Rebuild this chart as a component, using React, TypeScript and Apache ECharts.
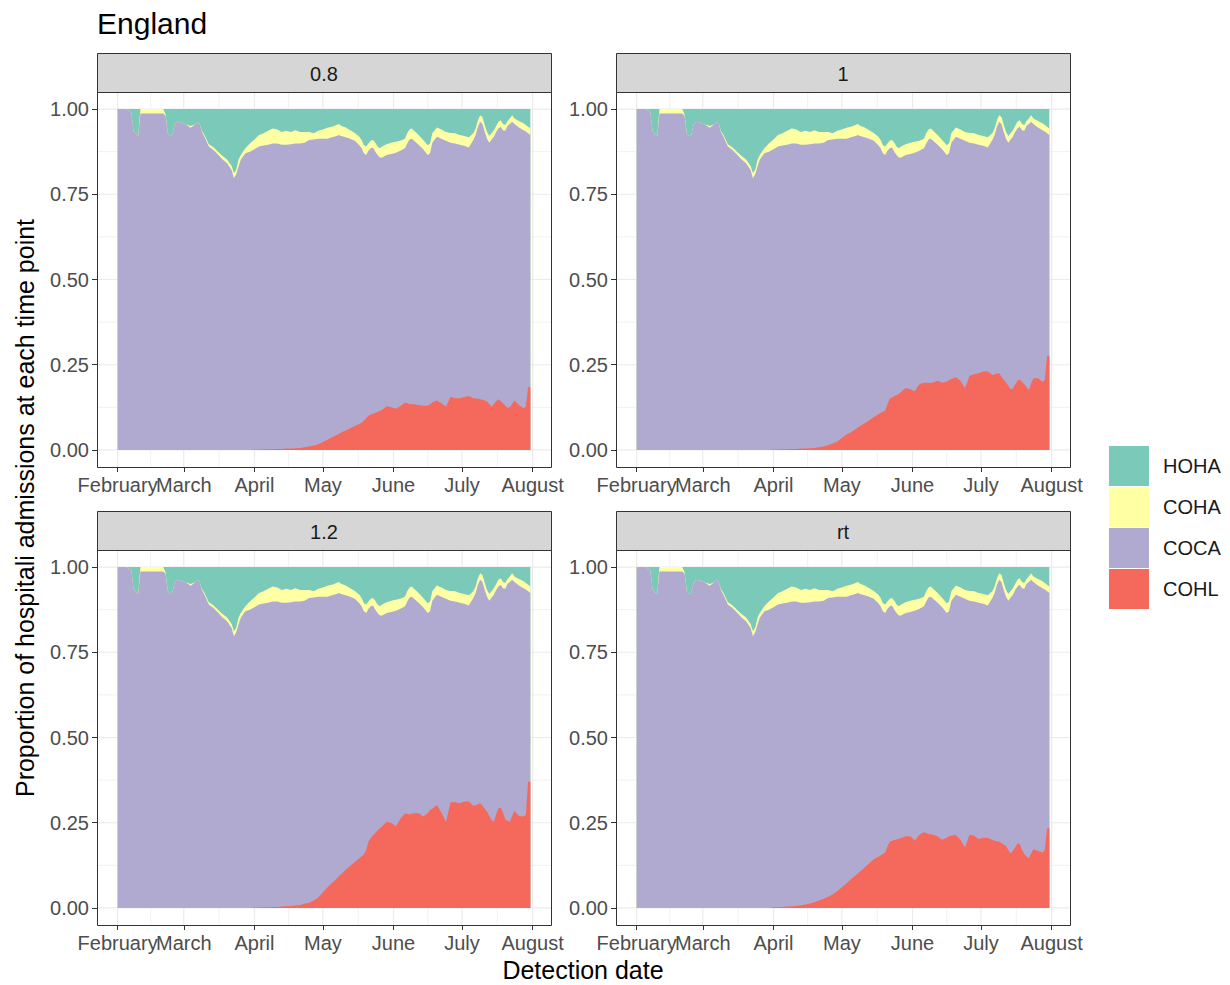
import React, { useEffect, useRef } from 'react';
import * as echarts from 'echarts';

// ---------- data ----------
const dates = [
  '2020-02-01','2020-02-05','2020-02-07','2020-02-08','2020-02-10','2020-02-11','2020-02-15','2020-02-19',
  '2020-02-21','2020-02-22','2020-02-23','2020-02-24','2020-02-25','2020-02-26','2020-02-27','2020-02-29',
  '2020-03-02','2020-03-04','2020-03-06','2020-03-07','2020-03-08','2020-03-09','2020-03-10','2020-03-12',
  '2020-03-14','2020-03-16','2020-03-18','2020-03-20','2020-03-22','2020-03-23','2020-03-24','2020-03-25',
  '2020-03-26','2020-03-28','2020-03-30',
  '2020-04-01','2020-04-03','2020-04-05','2020-04-07','2020-04-09','2020-04-11','2020-04-13','2020-04-15',
  '2020-04-17','2020-04-19','2020-04-21','2020-04-23','2020-04-25','2020-04-27','2020-04-29',
  '2020-05-01','2020-05-03','2020-05-05','2020-05-07','2020-05-08','2020-05-09','2020-05-11','2020-05-13',
  '2020-05-15','2020-05-17','2020-05-18','2020-05-19','2020-05-20','2020-05-21','2020-05-22','2020-05-23',
  '2020-05-24','2020-05-25','2020-05-26','2020-05-27','2020-05-29','2020-05-31',
  '2020-06-02','2020-06-04','2020-06-06','2020-06-07','2020-06-08','2020-06-09','2020-06-10','2020-06-12',
  '2020-06-14','2020-06-16','2020-06-17','2020-06-18','2020-06-20','2020-06-22','2020-06-24','2020-06-26',
  '2020-06-28','2020-06-30',
  '2020-07-02','2020-07-04','2020-07-06','2020-07-07','2020-07-08','2020-07-09','2020-07-10','2020-07-11',
  '2020-07-12','2020-07-13','2020-07-14','2020-07-15','2020-07-16','2020-07-17','2020-07-18','2020-07-19',
  '2020-07-20','2020-07-21','2020-07-22','2020-07-23','2020-07-24','2020-07-26','2020-07-28','2020-07-29',
  '2020-07-30','2020-07-31',
];

// HOHA proportion (same in every facet)
const hoha = [
  0, 0, 0.01, 0.065, 0.08, 0, 0, 0, 0, 0.015, 0.07, 0.08, 0.075, 0.045, 0.037, 0.04,
  0.045, 0.05, 0.045, 0.037, 0.044, 0.065, 0.075, 0.103, 0.112, 0.125, 0.138, 0.148, 0.167, 0.188, 0.178, 0.149, 0.135, 0.115, 0.101,
  0.089, 0.076, 0.071, 0.064, 0.057, 0.060, 0.067, 0.064, 0.067, 0.062, 0.067, 0.067, 0.067, 0.071, 0.064,
  0.060, 0.055, 0.052, 0.047, 0.044, 0.049, 0.054, 0.062, 0.070, 0.081, 0.091, 0.106, 0.110, 0.101, 0.093, 0.091, 0.099, 0.110, 0.115, 0.110, 0.103, 0.099,
  0.096, 0.093, 0.087, 0.071, 0.060, 0.057, 0.064, 0.076, 0.091, 0.106, 0.101, 0.071, 0.054, 0.060, 0.067, 0.070, 0.071, 0.076,
  0.079, 0.083, 0.071, 0.057, 0.033, 0.018, 0.023, 0.047, 0.067, 0.079, 0.071, 0.062, 0.050, 0.037, 0.033, 0.044, 0.047, 0.035, 0.028, 0.018, 0.028, 0.035, 0.042, 0.047, 0.052, 0.057,
];

// COHA proportion (same in every facet)
const coha = [
  0, 0, 0, 0, 0, 0.013, 0.013, 0.013, 0.013, 0.005, 0, 0, 0, 0, 0, 0,
  0, 0.005, 0, 0, 0, 0.003, 0.005, 0.007, 0.008, 0.008, 0.01, 0.011, 0.012, 0.015, 0.013, 0.02, 0.014, 0.015, 0.024,
  0.029, 0.034, 0.036, 0.041, 0.044, 0.041, 0.038, 0.041, 0.036, 0.039, 0.034, 0.032, 0.024, 0.018, 0.023,
  0.027, 0.032, 0.031, 0.032, 0.032, 0.030, 0.029, 0.025, 0.023, 0.025, 0.024, 0.024, 0.025, 0.021, 0.022, 0.022, 0.026, 0.025, 0.027, 0.032, 0.032, 0.033,
  0.032, 0.029, 0.028, 0.030, 0.029, 0.030, 0.029, 0.029, 0.027, 0.029, 0.029, 0.028, 0.027, 0.027, 0.026, 0.029, 0.030, 0.029,
  0.029, 0.030, 0.020, 0.019, 0.019, 0.019, 0.021, 0.020, 0.020, 0.020, 0.018, 0.019, 0.017, 0.020, 0.019, 0.018, 0.017, 0.014, 0.016, 0.019, 0.016, 0.019, 0.020, 0.019, 0.019, 0.019,
];

// COHL proportion per facet
const cohl08 = [
  0, 0, 0, 0, 0, 0, 0, 0, 0, 0, 0, 0, 0, 0, 0, 0,
  0, 0, 0, 0, 0, 0, 0, 0, 0, 0, 0, 0, 0, 0, 0, 0, 0, 0, 0,
  0.001, 0.001, 0.002, 0.002, 0.002, 0.003, 0.003, 0.004, 0.004, 0.005, 0.006, 0.008, 0.010, 0.013, 0.017,
  0.023, 0.030, 0.037, 0.044, 0.047, 0.051, 0.057, 0.064, 0.070, 0.076, 0.080, 0.086, 0.093, 0.100, 0.104, 0.106, 0.109, 0.111, 0.114, 0.118, 0.128, 0.125,
  0.121, 0.129, 0.139, 0.137, 0.135, 0.134, 0.134, 0.132, 0.130, 0.130, 0.134, 0.139, 0.145, 0.137, 0.127, 0.156, 0.152, 0.152,
  0.155, 0.158, 0.152, 0.151, 0.150, 0.149, 0.147, 0.145, 0.142, 0.135, 0.127, 0.135, 0.143, 0.149, 0.143, 0.137, 0.130, 0.124, 0.125, 0.135, 0.145, 0.132, 0.122, 0.127, 0.184, 0.184,
];
const cohl10 = [
  0, 0, 0, 0, 0, 0, 0, 0, 0, 0, 0, 0, 0, 0, 0, 0,
  0, 0, 0, 0, 0, 0, 0, 0, 0, 0, 0, 0, 0, 0, 0, 0, 0, 0, 0,
  0.001, 0.001, 0.002, 0.002, 0.003, 0.003, 0.004, 0.004, 0.005, 0.006, 0.008, 0.010, 0.014, 0.019, 0.025,
  0.035, 0.045, 0.052, 0.061, 0.065, 0.070, 0.078, 0.087, 0.097, 0.105, 0.109, 0.112, 0.115, 0.135, 0.150, 0.154, 0.158, 0.161, 0.165, 0.170, 0.182, 0.178,
  0.172, 0.193, 0.197, 0.197, 0.197, 0.196, 0.198, 0.203, 0.197, 0.200, 0.205, 0.208, 0.213, 0.203, 0.182, 0.218, 0.222, 0.225,
  0.230, 0.230, 0.220, 0.222, 0.224, 0.225, 0.215, 0.205, 0.198, 0.188, 0.178, 0.180, 0.192, 0.203, 0.207, 0.200, 0.193, 0.185, 0.176, 0.195, 0.210, 0.210, 0.200, 0.205, 0.276, 0.276,
];
const cohl12 = [
  0, 0, 0, 0, 0, 0, 0, 0, 0, 0, 0, 0, 0, 0, 0, 0,
  0, 0, 0, 0, 0, 0, 0, 0, 0, 0, 0, 0, 0, 0, 0, 0, 0, 0, 0,
  0.001, 0.001, 0.002, 0.002, 0.003, 0.003, 0.004, 0.005, 0.006, 0.007, 0.009, 0.012, 0.015, 0.022, 0.031,
  0.046, 0.060, 0.073, 0.086, 0.093, 0.099, 0.112, 0.124, 0.135, 0.146, 0.152, 0.157, 0.170, 0.195, 0.205, 0.213, 0.220, 0.227, 0.233, 0.240, 0.253, 0.249,
  0.240, 0.262, 0.277, 0.276, 0.274, 0.276, 0.278, 0.278, 0.268, 0.278, 0.287, 0.292, 0.302, 0.280, 0.252, 0.310, 0.310, 0.307,
  0.312, 0.312, 0.300, 0.301, 0.304, 0.307, 0.300, 0.290, 0.282, 0.270, 0.258, 0.253, 0.275, 0.292, 0.295, 0.280, 0.260, 0.256, 0.253, 0.270, 0.285, 0.270, 0.268, 0.273, 0.370, 0.370,
];
const cohlRt = [
  0, 0, 0, 0, 0, 0, 0, 0, 0, 0, 0, 0, 0, 0, 0, 0,
  0, 0, 0, 0, 0, 0, 0, 0, 0, 0, 0, 0, 0, 0, 0, 0, 0, 0, 0,
  0.002, 0.002, 0.003, 0.004, 0.005, 0.006, 0.008, 0.010, 0.013, 0.017, 0.022, 0.027, 0.033, 0.040, 0.049,
  0.061, 0.072, 0.084, 0.096, 0.101, 0.107, 0.119, 0.131, 0.143, 0.150, 0.154, 0.158, 0.163, 0.180, 0.194, 0.197, 0.199, 0.201, 0.203, 0.205, 0.210, 0.210,
  0.198, 0.215, 0.222, 0.220, 0.217, 0.216, 0.215, 0.210, 0.200, 0.206, 0.210, 0.212, 0.214, 0.200, 0.177, 0.215, 0.212, 0.202,
  0.206, 0.206, 0.199, 0.197, 0.196, 0.195, 0.190, 0.186, 0.182, 0.170, 0.160, 0.168, 0.178, 0.188, 0.188, 0.170, 0.158, 0.152, 0.146, 0.160, 0.172, 0.168, 0.163, 0.170, 0.234, 0.234,
];

const facetLabels = ['0.8', '1', '1.2', 'rt'];
const cohlByFacet = [cohl08, cohl10, cohl12, cohlRt];
const monthTicks = ['2020-02-01', '2020-03-01', '2020-04-01', '2020-05-01', '2020-06-01', '2020-07-01', '2020-08-01'];
const monthNames = ['February', 'March', 'April', 'May', 'June', 'July', 'August'];
const yTicks = [0, 0.25, 0.5, 0.75, 1];
const yMinorTicks = [0.125, 0.375, 0.625, 0.875];
const legendOrder = ['HOHA', 'COHA', 'COCA', 'COHL'];

// ---------- styling ----------
const COLORS: Record<string, string> = {
  HOHA: '#7BCAB9',
  COHA: '#FFFFA3',
  COCA: '#B0AAD0',
  COHL: '#F5695C',
};
const FONT = '"Liberation Sans", Arial, Helvetica, sans-serif';
const PANEL_W = 454;
const PANEL_H = 375;
const STRIP_H = 39;
const PANELS = [
  { left: 97, top: 92 },
  { left: 616, top: 92 },
  { left: 97, top: 550 },
  { left: 616, top: 550 },
];

const toTs = (s: string) => {
  const [y, m, d] = s.split('-').map(Number);
  return Date.UTC(y, m - 1, d);
};

export default function App() {
  const ref = useRef<HTMLDivElement>(null);

  useEffect(() => {
    if (!ref.current) return;
    const chart = echarts.init(ref.current, undefined, { renderer: 'svg' });

    const xs = dates.map(toTs);
    const first = xs[0];
    const last = xs[xs.length - 1];
    const span = last - first;
    const xMin = first - span * 0.05;
    const xMax = last + span * 0.05;
    const majorX = monthTicks.map(toTs);
    const minorX: number[] = [];
    for (let i = 0; i < majorX.length - 1; i++) minorX.push((majorX[i] + majorX[i + 1]) / 2);
    // labels split over two axes so that the touching "February"/"March" pair both stay visible
    const labelSetA = majorX.filter((_, k) => k % 2 === 0);
    const labelSetB = majorX.filter((_, k) => k % 2 === 1);
    const monthLabel = (v: number) => monthNames[majorX.findIndex((m) => Math.abs(m - v) < 3600000)] ?? '';

    const grids: any[] = [];
    const xAxes: any[] = [];
    const yAxes: any[] = [];
    const series: any[] = [];
    const graphics: any[] = [];

    PANELS.forEach((p, i) => {
      grids.push({ left: p.left, top: p.top, width: PANEL_W, height: PANEL_H, show: false, containLabel: false, outerBoundsMode: 'none' });
      const labelStyle = {
        margin: 8, fontSize: 20, color: '#4D4D4D', fontFamily: FONT,
        showMinLabel: true, showMaxLabel: true, hideOverlap: false, formatter: monthLabel,
      };
      xAxes.push({
        type: 'value', gridIndex: i, min: xMin, max: xMax, position: 'bottom',
        axisLine: { show: false, onZero: false },
        splitLine: { show: false },
        axisTick: { show: true, length: 5, lineStyle: { color: '#333333', width: 1 }, customValues: majorX },
        axisLabel: { ...labelStyle, customValues: labelSetA },
      });
      yAxes.push({
        type: 'value', gridIndex: i, min: -0.05, max: 1.05,
        axisLine: { show: false },
        splitLine: { show: false },
        axisTick: { show: true, length: 5, lineStyle: { color: '#333333', width: 1 }, customValues: yTicks },
        axisLabel: {
          customValues: yTicks, margin: 8, fontSize: 20, color: '#4D4D4D', fontFamily: FONT,
          showMinLabel: true, showMaxLabel: true,
          formatter: (v: number) => v.toFixed(2),
        },
      });

      // grid lines (drawn through the axes' scales, beneath the areas)
      const gridData: number[][] = [];
      majorX.forEach((x) => { if (x > xMin && x < xMax) gridData.push([x, 0, 1, 0]); });
      minorX.forEach((x) => { if (x > xMin && x < xMax) gridData.push([x, 0, 0, 0]); });
      yTicks.forEach((y) => gridData.push([first, y, 1, 1]));
      yMinorTicks.forEach((y) => gridData.push([first, y, 0, 1]));
      series.push({
        type: 'custom', xAxisIndex: i, yAxisIndex: i, z: 1, silent: true,
        data: gridData,
        renderItem: (params: any, api: any) => {
          const cs = params.coordSys;
          const pt = api.coord([api.value(0), api.value(1)]);
          const major = api.value(2) === 1;
          const horiz = api.value(3) === 1;
          const shape = horiz
            ? { x1: cs.x, y1: pt[1], x2: cs.x + cs.width, y2: pt[1] }
            : { x1: pt[0], y1: cs.y, x2: pt[0], y2: cs.y + cs.height };
          return { type: 'line', shape, style: { stroke: '#EBEBEB', lineWidth: major ? 1.2 : 0.7 } };
        },
      });

      // stacked proportions: each layer's upper edge, painted from the top layer down
      const cohl = cohlByFacet[i];
      const topHoha = dates.map(() => 1);
      const topCoha = dates.map((_, j) => +(1 - hoha[j]).toFixed(4));
      const topCoca = dates.map((_, j) => +(1 - hoha[j] - coha[j]).toFixed(4));
      const topCohl = cohl;
      const layers: [string, number[]][] = [
        ['HOHA', topHoha],
        ['COHA', topCoha],
        ['COCA', topCoca],
        ['COHL', topCohl],
      ];
      layers.forEach(([name, vals], k) => {
        series.push({
          type: 'line', name, xAxisIndex: i, yAxisIndex: i, z: 3 + k, silent: true,
          data: xs.map((x, j) => [x, vals[j]]),
          showSymbol: false, symbol: 'none',
          lineStyle: { width: 0, color: COLORS[name] },
          itemStyle: { color: COLORS[name] },
          areaStyle: { color: COLORS[name], opacity: 1, origin: 0 },
        });
      });

      // strip
      graphics.push({
        type: 'rect', z: 50,
        shape: { x: p.left + 0.5, y: p.top - STRIP_H + 0.5, width: PANEL_W, height: STRIP_H },
        style: { fill: '#D6D6D6', stroke: '#333333', lineWidth: 1 },
      });
      graphics.push({
        type: 'text', z: 51, x: p.left + PANEL_W / 2, y: p.top - STRIP_H / 2 + 1,
        style: { text: facetLabels[i], fill: '#1A1A1A', fontSize: 20, fontFamily: FONT, align: 'center', verticalAlign: 'middle' },
      });
      // panel border
      graphics.push({
        type: 'rect', z: 50,
        shape: { x: p.left + 0.5, y: p.top + 0.5, width: PANEL_W, height: PANEL_H },
        style: { fill: 'none', stroke: '#333333', lineWidth: 1 },
      });
    });

    // second bottom axis per panel carrying the other half of the month labels
    PANELS.forEach((_, i) => {
      xAxes.push({
        type: 'value', gridIndex: i, min: xMin, max: xMax, position: 'bottom', offset: 0,
        axisLine: { show: false, onZero: false },
        splitLine: { show: false },
        axisTick: { show: false },
        axisLabel: {
          margin: 8, fontSize: 20, color: '#4D4D4D', fontFamily: FONT,
          showMinLabel: true, showMaxLabel: true, hideOverlap: false, formatter: monthLabel,
          customValues: labelSetB,
        },
      });
    });

    graphics.push({
      type: 'text', x: 97, y: 23,
      style: { text: 'England', fill: '#000000', fontSize: 30, fontFamily: FONT, align: 'left', verticalAlign: 'middle' },
    });
    graphics.push({
      type: 'text', x: 583, y: 970,
      style: { text: 'Detection date', fill: '#000000', fontSize: 25, fontFamily: FONT, align: 'center', verticalAlign: 'middle' },
    });
    graphics.push({
      type: 'text', x: 25, y: 508, rotation: Math.PI / 2,
      style: { text: 'Proportion of hospitali admissions at each time point', fill: '#000000', fontSize: 25, fontFamily: FONT, align: 'center', verticalAlign: 'middle' },
    });

    chart.setOption({
      animation: false,
      backgroundColor: '#ffffff',
      grid: grids,
      xAxis: xAxes,
      yAxis: yAxes,
      series,
      legend: {
        orient: 'vertical', left: 1109, top: 446, padding: 0,
        data: legendOrder, icon: 'rect', itemWidth: 40, itemHeight: 40, itemGap: 1,
        selectedMode: false,
        itemStyle: { borderWidth: 0 },
        textStyle: { fontSize: 20, color: '#1A1A1A', fontFamily: FONT, padding: [0, 0, 0, 9] },
      },
      graphic: { elements: graphics },
    });

    return () => chart.dispose();
  }, []);

  return <div ref={ref} style={{ position: 'absolute', left: 0, top: 0, width: 1230, height: 985 }} />;
}
